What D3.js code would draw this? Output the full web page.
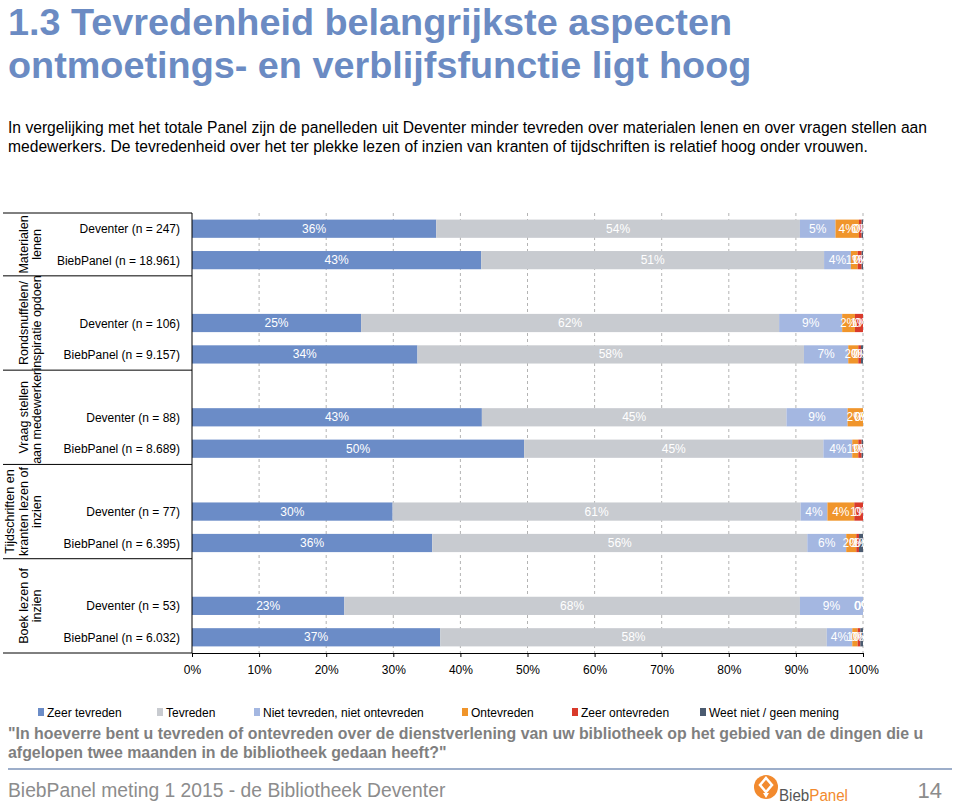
<!DOCTYPE html>
<html>
<head>
<meta charset="utf-8">
<script src="https://cdn.jsdelivr.net/npm/d3@7"></script>
<style>
  html, body { margin: 0; padding: 0; background: #fff; }
  svg { display: block; font-family: "Liberation Sans", Arial, sans-serif; }
</style>
</head>
<body>
<svg id="chart" width="960" height="806"></svg>
<script>
// ---------------- DATA ----------------
const groupNames = [
  ["Materialen", "lenen"],
  ["Rondsnuffelen/", "inspiratie opdoen"],
  ["Vraag stellen", "aan medewerker"],
  ["Tijdschriften en", "kranten lezen of", "inzien"],
  ["Boek lezen of", "inzien"]
];
const rowLabels = [
  "Deventer (n = 247)", "BiebPanel (n = 18.961)",
  "Deventer (n = 106)", "BiebPanel (n = 9.157)",
  "Deventer (n = 88)", "BiebPanel (n = 8.689)",
  "Deventer (n = 77)", "BiebPanel (n = 6.395)",
  "Deventer (n = 53)", "BiebPanel (n = 6.032)"
];
const seriesNames = ["Zeer tevreden", "Tevreden", "Niet tevreden, niet ontevreden", "Ontevreden", "Zeer ontevreden", "Weet niet / geen mening"];
const zeerTevreden   = [36.4, 43.1, 25.2, 33.6, 43.2, 49.5, 29.9, 35.8, 22.7, 37.0];
const tevreden       = [54.2, 51.1, 62.3, 57.6, 45.4, 44.6, 60.8, 55.9, 67.9, 57.6];
const nietNiet       = [5.3, 4.0, 9.4, 6.6, 9.1, 4.3, 4.0, 5.8, 9.4, 3.8];
const ontevreden     = [3.5, 1.0, 1.9, 1.5, 2.3, 0.9, 4.0, 1.5, 0.0, 0.8];
const zeerOntevreden = [0.4, 0.6, 1.2, 0.4, 0.0, 0.5, 1.3, 0.4, 0.0, 0.4];
const weetNiet       = [0.2, 0.2, 0.0, 0.3, 0.0, 0.2, 0.0, 0.6, 0.0, 0.4];
const xTicks = [0, 10, 20, 30, 40, 50, 60, 70, 80, 90, 100];
const colors = ["#6b8cc7", "#c8cbd0", "#a4b7e1", "#f0952b", "#d93a2b", "#4b5b70"];

const titleLines = ["1.3 Tevredenheid belangrijkste aspecten", "ontmoetings- en verblijfsfunctie ligt hoog"];
const introLines = [
  "In vergelijking met het totale Panel zijn de panelleden uit Deventer minder tevreden over materialen lenen en over vragen stellen aan",
  "medewerkers. De tevredenheid over het ter plekke lezen of inzien van kranten of tijdschriften is relatief hoog onder vrouwen."
];
const questionLines = [
  "\"In hoeverre bent u tevreden of ontevreden over de dienstverlening van uw bibliotheek op het gebied van de dingen die u",
  "afgelopen twee maanden in de bibliotheek gedaan heeft?\""
];
const footerText = "BiebPanel meting 1 2015 - de Bibliotheek Deventer";
const pageNumber = "14";

// ---------------- BUILD ----------------
const seriesData = [zeerTevreden, tevreden, nietNiet, ontevreden, zeerOntevreden, weetNiet];
const rows = rowLabels.map((label, i) => {
  const r = { key: "r" + i, label: label, group: Math.floor(i / 2) };
  seriesNames.forEach((s, j) => r[s] = seriesData[j][i]);
  return r;
});
const slots = [];
groupNames.forEach((g, gi) => {
  if (gi > 0) slots.push("gap" + gi);
  slots.push("r" + (gi * 2), "r" + (gi * 2 + 1));
});

const svg = d3.select("#chart");
const titleColor = "#6b8bc3";

// Title
svg.append("g").selectAll("text").data(titleLines).join("text")
  .attr("x", 8).attr("y", (d, i) => 35 + i * 43)
  .attr("fill", titleColor).attr("font-size", 37.8).attr("font-weight", "bold").text(d => d);

// Intro text
svg.append("g").selectAll("text").data(introLines).join("text")
  .attr("x", 8).attr("y", (d, i) => 133 + i * 19)
  .attr("fill", "#000").attr("font-size", 15.65).text(d => d);

// Scales
const x = d3.scaleLinear().domain([0, 100]).range([192, 863]);
const y = d3.scaleBand().domain(slots).range([213, 653]).paddingInner(0.42).paddingOuter(0.21);
const step = y.step();

const plot = svg.append("g");

svg.append("defs").append("clipPath").attr("id", "plotClip")
  .append("rect").attr("x", x(0)).attr("y", 205).attr("width", x(100) - x(0)).attr("height", 455);

// gridlines
plot.append("g").selectAll("line").data(xTicks.slice(1)).join("line")
  .attr("x1", d => x(d)).attr("x2", d => x(d))
  .attr("y1", 213).attr("y2", 653)
  .attr("stroke", "#a0a0a0").attr("stroke-width", 0.8).attr("stroke-dasharray", "3,3");

// stacked bars
const stack = d3.stack().keys(seriesNames);
const stacked = stack(rows);
const segG = plot.append("g");
stacked.forEach((layer, li) => {
  segG.append("g").attr("fill", colors[li]).selectAll("rect").data(layer).join("rect")
    .attr("x", d => x(d[0]))
    .attr("width", d => Math.max(0, x(d[1]) - x(d[0])))
    .attr("y", d => y(d.data.key))
    .attr("height", y.bandwidth());
});

// labels
const labG = plot.append("g").attr("clip-path", "url(#plotClip)");
stacked.forEach((layer, li) => {
  labG.append("g").selectAll("text").data(layer).join("text")
    .attr("x", d => (x(d[0]) + x(d[1])) / 2)
    .attr("y", d => y(d.data.key) + y.bandwidth() / 2 + 4)
    .attr("text-anchor", "middle")
    .attr("fill", "#fff").attr("font-size", 12)
    .text(d => Math.round(d[1] - d[0]) + "%");
});

// x axis
const xAxis = d3.axisBottom(x).tickValues(xTicks).tickFormat(d => d + "%").tickSize(4).tickPadding(8);
const axG = svg.append("g").attr("transform", "translate(0,653)").call(xAxis);
axG.select(".domain").attr("stroke", "#000").attr("stroke-width", 1);
axG.selectAll(".tick line").attr("stroke", "#000");
axG.selectAll(".tick text").attr("font-size", 12).attr("fill", "#000")
  .attr("font-family", "\"Liberation Sans\", Arial, sans-serif");

svg.append("line").attr("x1", x(0)).attr("x2", x(0)).attr("y1", 213).attr("y2", 653)
  .attr("stroke", "#000").attr("stroke-width", 1);

// row labels
svg.append("g").selectAll("text").data(rows).join("text")
  .attr("x", 180).attr("y", d => y(d.key) + y.bandwidth() / 2 + 4.5)
  .attr("text-anchor", "end").attr("font-size", 12).attr("fill", "#000")
  .text(d => d.label);

// group boundaries
const boundaries = [213];
groupNames.forEach((g, gi) => {
  if (gi < groupNames.length - 1) {
    boundaries.push(y("gap" + (gi + 1)) - (step - y.bandwidth()) / 2);
  }
});
boundaries.push(653);
svg.append("g").selectAll("line").data(boundaries).join("line")
  .attr("x1", 3).attr("x2", x(0))
  .attr("y1", d => d).attr("y2", d => d)
  .attr("stroke", "#000").attr("stroke-width", 1);

// group labels (rotated)
groupNames.forEach((lines, gi) => {
  const cy = (boundaries[gi] + boundaries[gi + 1]) / 2;
  const n = lines.length;
  const t = svg.append("text")
    .attr("transform", `translate(0,${cy}) rotate(-90)`)
    .attr("text-anchor", "middle").attr("font-size", 12.5).attr("fill", "#000");
  lines.forEach((ln, li) => {
    t.append("tspan").attr("x", 0).attr("y", 41 - (n - 1 - li) * 13.5).text(ln);
  });
});

// legend
const legendX = [38, 157, 254, 462, 572, 700];
const legG = svg.append("g");
seriesNames.forEach((s, i) => {
  legG.append("rect").attr("x", legendX[i]).attr("y", 708).attr("width", 6).attr("height", 8).attr("fill", colors[i]);
  legG.append("text").attr("x", legendX[i] + 9).attr("y", 717).attr("font-size", 12).attr("fill", "#000").text(s);
});

// question
svg.append("g").selectAll("text").data(questionLines).join("text")
  .attr("x", 8).attr("y", (d, i) => 739 + i * 19)
  .attr("font-size", 15.9).attr("font-weight", "bold").attr("fill", "#7f7f7f").text(d => d);

// separator
svg.append("line").attr("x1", 8).attr("x2", 952).attr("y1", 769).attr("y2", 769)
  .attr("stroke", "#7d93b8").attr("stroke-width", 1.5);

// footer
svg.append("text").attr("x", 8).attr("y", 797).attr("font-size", 19.3).attr("fill", "#8c8c8c").text(footerText);
svg.append("text").attr("x", 942).attr("y", 798).attr("text-anchor", "end").attr("font-size", 22).attr("fill", "#8c8c8c").text(pageNumber);

// logo
const logo = svg.append("g").attr("transform", "translate(766,787)");
logo.append("circle").attr("r", 12).attr("fill", "#f28a2e");
logo.append("path").attr("d", "M0,-9 L6,-2 L0,5 L-6,-2 Z").attr("fill", "none").attr("stroke", "#fff").attr("stroke-width", 2.5);
logo.append("path").attr("d", "M-3,6 L0,11 L3,6").attr("fill", "#fff");
const lt = svg.append("text").attr("x", 779).attr("y", 801).attr("font-size", 16)
  .attr("textLength", 69).attr("lengthAdjust", "spacingAndGlyphs");
lt.append("tspan").attr("fill", "#555").text("Bieb");
lt.append("tspan").attr("fill", "#f28a2e").text("Panel");
</script>
</body>
</html>
